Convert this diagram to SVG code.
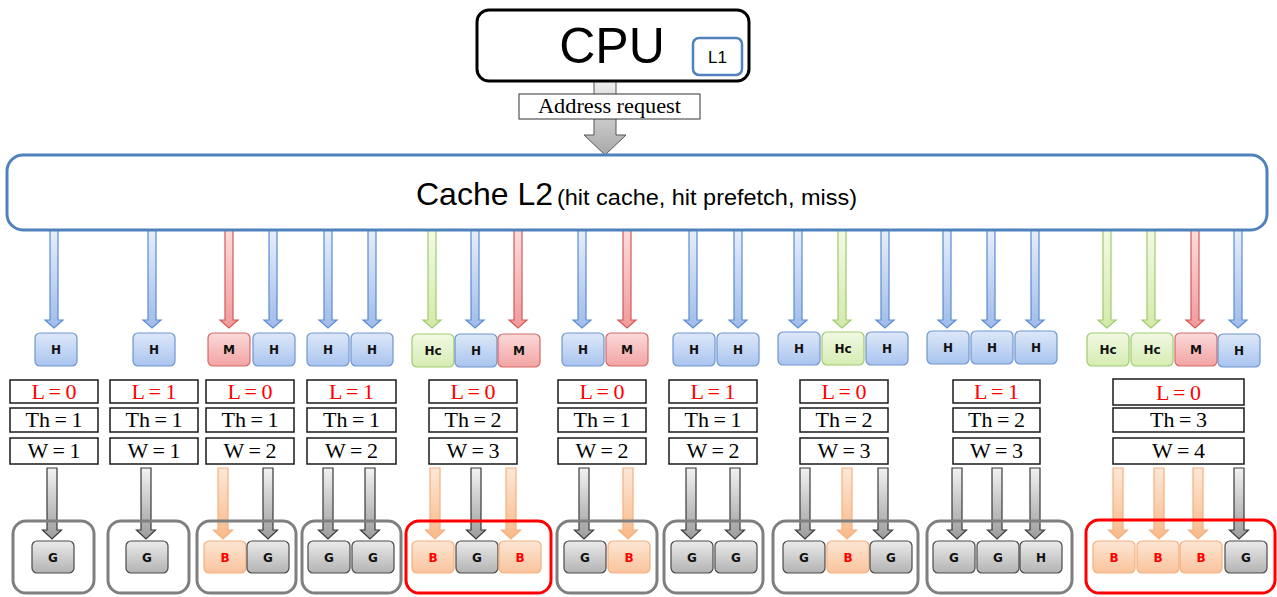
<svg xmlns="http://www.w3.org/2000/svg" xmlns:xlink="http://www.w3.org/1999/xlink" width="1277" height="597" viewBox="0 0 1277 597">
<style>
.box{fill:#fff;stroke:#1a1a1a;stroke-width:1.5}
.lt{font-family:"Liberation Serif",serif;font-size:22px;fill:#ff0000;text-anchor:middle;word-spacing:-1px}
.tt{font-family:"Liberation Serif",serif;font-size:22px;fill:#000;text-anchor:middle;word-spacing:-1px}
.nb{stroke:#6f95cf;stroke-width:1.2;fill:url(#gB)}
.nr{stroke:#d46a6a;stroke-width:1.2;fill:url(#gR)}
.ng{stroke:#9fcb6e;stroke-width:1.2;fill:url(#gG)}
.no{stroke:#f5b07e;stroke-width:1.2;fill:url(#gO)}
.nk{stroke:#4a4a4a;stroke-width:1.2;fill:url(#gK)}
.lb{font-family:"DejaVu Sans",sans-serif;font-weight:bold;font-size:12px;text-anchor:middle;fill:#111}
.lbr{font-family:"DejaVu Sans",sans-serif;font-weight:bold;font-size:12px;text-anchor:middle;fill:#ff0000}
.lbk{font-family:"DejaVu Sans",sans-serif;font-weight:bold;font-size:12px;text-anchor:middle;fill:#111}
.grp{fill:none;stroke:#7f7f7f;stroke-width:3}
.grpr{fill:none;stroke:#ff0000;stroke-width:3}
.ab{fill:url(#aB);stroke:#5b8bd0;stroke-width:1.2}
.ar{fill:url(#aR);stroke:#d05a5a;stroke-width:1.2}
.ag{fill:url(#aG);stroke:#9fcb6e;stroke-width:1.2}
.ak{fill:url(#aK);stroke:#3a3a3a;stroke-width:1.2}
.ao{fill:url(#aO);stroke:#f5b07e;stroke-width:1.2}
</style>
<defs>
<linearGradient id="gB" x1="0" y1="0" x2="0" y2="1"><stop offset="0" stop-color="#dde8f8"/><stop offset="1" stop-color="#a9c4ef"/></linearGradient>
<linearGradient id="gR" x1="0" y1="0" x2="0" y2="1"><stop offset="0" stop-color="#fcdada"/><stop offset="1" stop-color="#f3a3a3"/></linearGradient>
<linearGradient id="gG" x1="0" y1="0" x2="0" y2="1"><stop offset="0" stop-color="#f1f9e3"/><stop offset="1" stop-color="#d6ecb3"/></linearGradient>
<linearGradient id="gO" x1="0" y1="0" x2="0" y2="1"><stop offset="0" stop-color="#fde6d4"/><stop offset="1" stop-color="#f9c39c"/></linearGradient>
<linearGradient id="gK" x1="0" y1="0" x2="0" y2="1"><stop offset="0" stop-color="#ebebeb"/><stop offset="1" stop-color="#b3b3b3"/></linearGradient>
<linearGradient id="aB" x1="0" y1="0" x2="0" y2="1"><stop offset="0" stop-color="#e6eefb"/><stop offset="1" stop-color="#9fbcea"/></linearGradient>
<linearGradient id="aR" x1="0" y1="0" x2="0" y2="1"><stop offset="0" stop-color="#fcdcdc"/><stop offset="1" stop-color="#f19a9a"/></linearGradient>
<linearGradient id="aG" x1="0" y1="0" x2="0" y2="1"><stop offset="0" stop-color="#f3fae6"/><stop offset="1" stop-color="#d3eaa9"/></linearGradient>
<linearGradient id="aK" x1="0" y1="0" x2="0" y2="1"><stop offset="0" stop-color="#f2f2f2"/><stop offset="1" stop-color="#9c9c9c"/></linearGradient>
<linearGradient id="aO" x1="0" y1="0" x2="0" y2="1"><stop offset="0" stop-color="#fde8d8"/><stop offset="1" stop-color="#f8b988"/></linearGradient>
<linearGradient id="aCpu" x1="0" y1="0" x2="0" y2="1"><stop offset="0" stop-color="#eeeeee"/><stop offset="1" stop-color="#a8a8a8"/></linearGradient>
<path id="top" d="M-4,0 V90 H-9 L0,98 L9,90 H4 V0 Z"/>
<path id="bot" d="M-5,0 V62 H-9.5 L0,71 L9.5,62 H5 V0 Z"/>
</defs>

<g id="connectors">
<path d="M594,81 V135 H584 L605,155 L626,135 H616 V81 Z" fill="url(#aCpu)" stroke="#555" stroke-width="1"/>
<g transform="translate(0,230)">
<use href="#top" x="54" class="ab"/>
<use href="#top" x="152" class="ab"/>
<use href="#top" x="229" class="ar"/>
<use href="#top" x="273" class="ab"/>
<use href="#top" x="328" class="ab"/>
<use href="#top" x="372" class="ab"/>
<use href="#top" x="432" class="ag"/>
<use href="#top" x="475" class="ab"/>
<use href="#top" x="518" class="ar"/>
<use href="#top" x="582" class="ab"/>
<use href="#top" x="627" class="ar"/>
<use href="#top" x="693" class="ab"/>
<use href="#top" x="738" class="ab"/>
<use href="#top" x="798" class="ab"/>
<use href="#top" x="842" class="ag"/>
<use href="#top" x="885" class="ab"/>
<use href="#top" x="947" class="ab"/>
<use href="#top" x="991" class="ab"/>
<use href="#top" x="1035" class="ab"/>
<use href="#top" x="1107" class="ag"/>
<use href="#top" x="1151" class="ag"/>
<use href="#top" x="1195" class="ar"/>
<use href="#top" x="1238" class="ab"/>
</g>
<g transform="translate(0,468)">
<use href="#bot" x="52" class="ak"/>
<use href="#bot" x="146" class="ak"/>
<use href="#bot" x="223" class="ao"/>
<use href="#bot" x="268" class="ak"/>
<use href="#bot" x="328" class="ak"/>
<use href="#bot" x="370" class="ak"/>
<use href="#bot" x="435" class="ao"/>
<use href="#bot" x="476" class="ak"/>
<use href="#bot" x="511" class="ao"/>
<use href="#bot" x="584" class="ak"/>
<use href="#bot" x="628" class="ao"/>
<use href="#bot" x="691" class="ak"/>
<use href="#bot" x="735" class="ak"/>
<use href="#bot" x="805" class="ak"/>
<use href="#bot" x="847" class="ao"/>
<use href="#bot" x="883" class="ak"/>
<use href="#bot" x="957" class="ak"/>
<use href="#bot" x="997" class="ak"/>
<use href="#bot" x="1035" class="ak"/>
<use href="#bot" x="1118" class="ao"/>
<use href="#bot" x="1159" class="ao"/>
<use href="#bot" x="1198" class="ao"/>
<use href="#bot" x="1239" class="ak"/>
</g>
</g>

<g id="cpu">
<rect x="477" y="10" width="272" height="71" rx="12" fill="#fff" stroke="#000" stroke-width="3"/>
<text x="612" y="63" font-family="Liberation Sans, sans-serif" font-size="50" text-anchor="middle">CPU</text>
<rect x="693" y="38" width="49" height="37" rx="6" fill="#fff" stroke="#4f81bd" stroke-width="2.5"/>
<text x="717.5" y="63" font-family="Liberation Sans, sans-serif" font-size="17" text-anchor="middle">L1</text>
</g>
<g id="address">
<rect x="519" y="94" width="181" height="25" fill="#fff" stroke="#333" stroke-width="1"/>
<text x="609.5" y="113" font-family="Liberation Serif, serif" font-size="20" text-anchor="middle" textLength="143" lengthAdjust="spacingAndGlyphs">Address request</text>
</g>
<g id="cacheL2">
<rect x="7" y="155" width="1260" height="75" rx="16" fill="#fff" stroke="#4f81bd" stroke-width="3"/>
<text x="416" y="205" font-family="Liberation Sans, sans-serif" font-size="32">Cache L2</text>
<text x="557" y="205" font-family="Liberation Sans, sans-serif" font-size="22" textLength="300" lengthAdjust="spacingAndGlyphs">(hit cache, hit prefetch, miss)</text>
</g>

<g id="top-nodes">
<g id="t1"><rect class="nb" x="35" y="333" width="42" height="33" rx="5"/><text class="lb" x="56" y="354">H</text></g>
<g id="t2"><rect class="nb" x="133" y="333" width="42" height="33" rx="5"/><text class="lb" x="154" y="354">H</text></g>
<g id="t3"><rect class="nr" x="208" y="333" width="42" height="33" rx="5"/><text class="lb" x="229" y="354">M</text></g>
<g id="t4"><rect class="nb" x="253" y="333" width="42" height="33" rx="5"/><text class="lb" x="274" y="354">H</text></g>
<g id="t5"><rect class="nb" x="307" y="333" width="42" height="33" rx="5"/><text class="lb" x="328" y="354">H</text></g>
<g id="t6"><rect class="nb" x="351" y="333" width="42" height="33" rx="5"/><text class="lb" x="372" y="354">H</text></g>
<g id="t7"><rect class="ng" x="412" y="334" width="42" height="33" rx="5"/><text class="lb" x="433" y="355">Hc</text></g>
<g id="t8"><rect class="nb" x="455" y="334" width="42" height="33" rx="5"/><text class="lb" x="476" y="355">H</text></g>
<g id="t9"><rect class="nr" x="498" y="334" width="42" height="33" rx="5"/><text class="lb" x="519" y="355">M</text></g>
<g id="t10"><rect class="nb" x="562" y="333" width="42" height="33" rx="5"/><text class="lb" x="583" y="354">H</text></g>
<g id="t11"><rect class="nr" x="606" y="333" width="42" height="33" rx="5"/><text class="lb" x="627" y="354">M</text></g>
<g id="t12"><rect class="nb" x="673" y="333" width="42" height="33" rx="5"/><text class="lb" x="694" y="354">H</text></g>
<g id="t13"><rect class="nb" x="717" y="333" width="42" height="33" rx="5"/><text class="lb" x="738" y="354">H</text></g>
<g id="t14"><rect class="nb" x="778" y="332" width="42" height="33" rx="5"/><text class="lb" x="799" y="353">H</text></g>
<g id="t15"><rect class="ng" x="822" y="332" width="42" height="33" rx="5"/><text class="lb" x="843" y="353">Hc</text></g>
<g id="t16"><rect class="nb" x="866" y="332" width="42" height="33" rx="5"/><text class="lb" x="887" y="353">H</text></g>
<g id="t17"><rect class="nb" x="927" y="331" width="42" height="33" rx="5"/><text class="lb" x="948" y="352">H</text></g>
<g id="t18"><rect class="nb" x="971" y="331" width="42" height="33" rx="5"/><text class="lb" x="992" y="352">H</text></g>
<g id="t19"><rect class="nb" x="1015" y="331" width="42" height="33" rx="5"/><text class="lb" x="1036" y="352">H</text></g>
<g id="t20"><rect class="ng" x="1087" y="333" width="42" height="33" rx="5"/><text class="lb" x="1108" y="354">Hc</text></g>
<g id="t21"><rect class="ng" x="1131" y="333" width="42" height="33" rx="5"/><text class="lb" x="1152" y="354">Hc</text></g>
<g id="t22"><rect class="nr" x="1175" y="333" width="42" height="33" rx="5"/><text class="lb" x="1196" y="354">M</text></g>
<g id="t23"><rect class="nb" x="1218" y="334" width="42" height="33" rx="5"/><text class="lb" x="1239" y="355">H</text></g>
</g>

<g id="params">
<g id="p1"><rect class="box" x="10" y="380" width="88" height="23"/><text class="lt" x="54" y="399">L = 0</text><rect class="box" x="10" y="408" width="88" height="24"/><text class="tt" x="54" y="427">Th = 1</text><rect class="box" x="10" y="438" width="88" height="26"/><text class="tt" x="54" y="458">W = 1</text></g>
<g id="p2"><rect class="box" x="110" y="380" width="88" height="23"/><text class="lt" x="154" y="399">L = 1</text><rect class="box" x="110" y="408" width="88" height="24"/><text class="tt" x="154" y="427">Th = 1</text><rect class="box" x="110" y="438" width="88" height="26"/><text class="tt" x="154" y="458">W = 1</text></g>
<g id="p3"><rect class="box" x="206" y="380" width="88" height="23"/><text class="lt" x="250" y="399">L = 0</text><rect class="box" x="206" y="408" width="88" height="24"/><text class="tt" x="250" y="427">Th = 1</text><rect class="box" x="206" y="438" width="88" height="26"/><text class="tt" x="250" y="458">W = 2</text></g>
<g id="p4"><rect class="box" x="307" y="380" width="89" height="23"/><text class="lt" x="351.5" y="399">L = 1</text><rect class="box" x="307" y="408" width="89" height="24"/><text class="tt" x="351.5" y="427">Th = 1</text><rect class="box" x="307" y="438" width="89" height="26"/><text class="tt" x="351.5" y="458">W = 2</text></g>
<g id="p5"><rect class="box" x="429" y="380" width="88" height="23"/><text class="lt" x="473" y="399">L = 0</text><rect class="box" x="429" y="408" width="88" height="24"/><text class="tt" x="473" y="427">Th = 2</text><rect class="box" x="429" y="438" width="88" height="26"/><text class="tt" x="473" y="458">W = 3</text></g>
<g id="p6"><rect class="box" x="558" y="380" width="88" height="23"/><text class="lt" x="602" y="399">L = 0</text><rect class="box" x="558" y="408" width="88" height="24"/><text class="tt" x="602" y="427">Th = 1</text><rect class="box" x="558" y="438" width="88" height="26"/><text class="tt" x="602" y="458">W = 2</text></g>
<g id="p7"><rect class="box" x="669" y="380" width="88" height="23"/><text class="lt" x="713" y="399">L = 1</text><rect class="box" x="669" y="408" width="88" height="24"/><text class="tt" x="713" y="427">Th = 1</text><rect class="box" x="669" y="438" width="88" height="26"/><text class="tt" x="713" y="458">W = 2</text></g>
<g id="p8"><rect class="box" x="800" y="380" width="88" height="23"/><text class="lt" x="844" y="399">L = 0</text><rect class="box" x="800" y="408" width="88" height="24"/><text class="tt" x="844" y="427">Th = 2</text><rect class="box" x="800" y="438" width="88" height="26"/><text class="tt" x="844" y="458">W = 3</text></g>
<g id="p9"><rect class="box" x="953" y="380" width="87" height="23"/><text class="lt" x="996.5" y="399">L = 1</text><rect class="box" x="953" y="408" width="87" height="24"/><text class="tt" x="996.5" y="427">Th = 2</text><rect class="box" x="953" y="438" width="87" height="26"/><text class="tt" x="996.5" y="458">W = 3</text></g>
<g id="p10"><rect class="box" x="1113" y="379" width="131" height="26"/><text class="lt" x="1178.5" y="400">L = 0</text><rect class="box" x="1113" y="408" width="131" height="24"/><text class="tt" x="1178.5" y="427">Th = 3</text><rect class="box" x="1113" y="438" width="131" height="26"/><text class="tt" x="1178.5" y="458">W = 4</text></g>
</g>

<g id="groups">
<g id="g1"><rect class="grp" x="13" y="521" width="81" height="72" rx="13"/><rect class="nk" x="32" y="541" width="42" height="32" rx="5"/><text class="lbk" x="53" y="561.5">G</text></g>
<g id="g2"><rect class="grp" x="108" y="521" width="81" height="72" rx="13"/><rect class="nk" x="126" y="541" width="42" height="32" rx="5"/><text class="lbk" x="147" y="561.5">G</text></g>
<g id="g3"><rect class="grp" x="197" y="521" width="99" height="72" rx="13"/><rect class="no" x="204" y="541" width="42" height="32" rx="5"/><text class="lbr" x="225" y="561.5">B</text><rect class="nk" x="247" y="541" width="42" height="32" rx="5"/><text class="lbk" x="268" y="561.5">G</text></g>
<g id="g4"><rect class="grp" x="302" y="521" width="99" height="72" rx="13"/><rect class="nk" x="308" y="541" width="42" height="32" rx="5"/><text class="lbk" x="329" y="561.5">G</text><rect class="nk" x="352" y="541" width="42" height="32" rx="5"/><text class="lbk" x="373" y="561.5">G</text></g>
<g id="g5"><rect class="grpr" x="406" y="521" width="145" height="72" rx="13"/><rect class="no" x="412" y="541" width="42" height="32" rx="5"/><text class="lbr" x="433" y="561.5">B</text><rect class="nk" x="456" y="541" width="42" height="32" rx="5"/><text class="lbk" x="477" y="561.5">G</text><rect class="no" x="499" y="541" width="42" height="32" rx="5"/><text class="lbr" x="520" y="561.5">B</text></g>
<g id="g6"><rect class="grp" x="557" y="521" width="100" height="72" rx="13"/><rect class="nk" x="564" y="541" width="42" height="32" rx="5"/><text class="lbk" x="585" y="561.5">G</text><rect class="no" x="608" y="541" width="42" height="32" rx="5"/><text class="lbr" x="629" y="561.5">B</text></g>
<g id="g7"><rect class="grp" x="664" y="521" width="99" height="72" rx="13"/><rect class="nk" x="671" y="541" width="42" height="32" rx="5"/><text class="lbk" x="692" y="561.5">G</text><rect class="nk" x="715" y="541" width="42" height="32" rx="5"/><text class="lbk" x="736" y="561.5">G</text></g>
<g id="g8"><rect class="grp" x="773" y="521" width="145" height="72" rx="13"/><rect class="nk" x="783" y="541" width="42" height="32" rx="5"/><text class="lbk" x="804" y="561.5">G</text><rect class="no" x="827" y="541" width="42" height="32" rx="5"/><text class="lbr" x="848" y="561.5">B</text><rect class="nk" x="870" y="541" width="42" height="32" rx="5"/><text class="lbk" x="891" y="561.5">G</text></g>
<g id="g9"><rect class="grp" x="927" y="521" width="145" height="72" rx="13"/><rect class="nk" x="933" y="541" width="42" height="32" rx="5"/><text class="lbk" x="954" y="561.5">G</text><rect class="nk" x="977" y="541" width="42" height="32" rx="5"/><text class="lbk" x="998" y="561.5">G</text><rect class="nk" x="1020" y="541" width="42" height="32" rx="5"/><text class="lbk" x="1041" y="561.5">H</text></g>
<g id="g10"><rect class="grpr" x="1086" y="520" width="189" height="73" rx="13"/><rect class="no" x="1093" y="541" width="42" height="32" rx="5"/><text class="lbr" x="1114" y="561.5">B</text><rect class="no" x="1137" y="541" width="42" height="32" rx="5"/><text class="lbr" x="1158" y="561.5">B</text><rect class="no" x="1180" y="541" width="42" height="32" rx="5"/><text class="lbr" x="1201" y="561.5">B</text><rect class="nk" x="1225" y="541" width="42" height="32" rx="5"/><text class="lbk" x="1246" y="561.5">G</text></g>
</g>
</svg>
